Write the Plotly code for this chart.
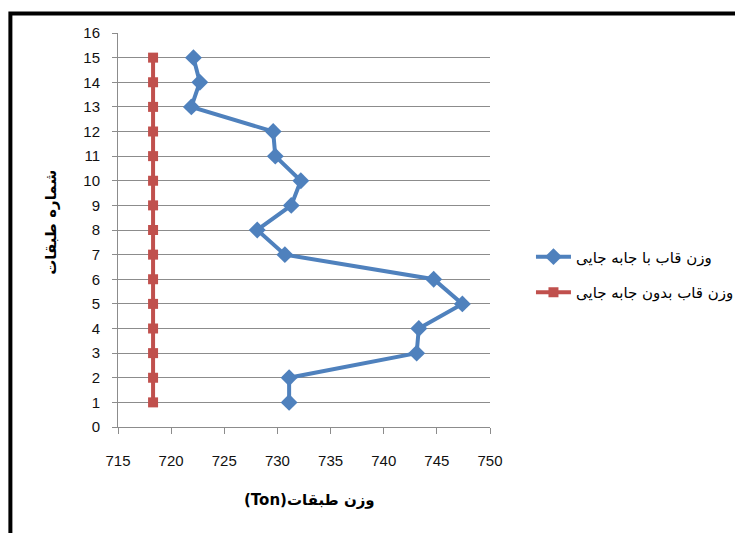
import plotly.graph_objects as go

floors = [1, 2, 3, 4, 5, 6, 7, 8, 9, 10, 11, 12, 13, 14, 15]
weight_with = [731.1, 731.1, 743.1, 743.3, 747.4, 744.7, 730.7, 728.1, 731.3, 732.2, 729.8, 729.6, 721.9, 722.7, 722.1]
weight_without = [718.3] * 15
x_ticks = [715, 720, 725, 730, 735, 740, 745, 750]
y_ticks = list(range(0, 17))

name_with = "وزن قاب با جابه جایی"
name_without = "وزن قاب بدون جابه جایی"
x_title = "(Ton)وزن طبقات"
y_title = "شماره طبقات"

OFF = 8  # page body margin
W, H = 743 - OFF, 533 - OFF
L, R, T, B = 117.7 - OFF, 490 - OFF, 32.5 - OFF, 426.7 - OFF
pw, ph = R - L, B - T

def px(x):
    return (x - OFF - L) / pw

def py(y):
    return (B - (y - OFF)) / ph

fig = go.Figure()
fig.add_trace(go.Scatter(
    x=weight_with, y=floors, mode="lines+markers", name=name_with,
    legendgroup="a",
    line=dict(color="#4F81BD", width=4),
    marker=dict(symbol="diamond", size=13, color="#4F81BD"),
))
fig.add_trace(go.Scatter(
    x=weight_without, y=floors, mode="lines+markers", name=name_without,
    legendgroup="b",
    line=dict(color="#C0504D", width=4),
    marker=dict(symbol="square", size=10, color="#C0504D"),
))

axis_font = dict(family="Liberation Sans, Arial", size=15, color="#111111")
fig.update_layout(
    width=W, height=H,
    margin=dict(l=L, r=W - R, t=T, b=H - B, pad=0, autoexpand=False),
    paper_bgcolor="white", plot_bgcolor="white",
    showlegend=True,
    legend=dict(
        x=px(531), y=py(240), xanchor="left", yanchor="top",
        font=dict(family="DejaVu Sans", size=15, color="#000"),
        traceorder="grouped", tracegroupgap=13,
        itemwidth=35, bgcolor="rgba(0,0,0,0)",
    ),
    xaxis=dict(
        range=[715, 750], tickvals=x_ticks, ticktext=[str(v) for v in x_ticks],
        showgrid=False, zeroline=False, showline=True, linecolor="#8c8c8c", linewidth=1,
        ticks="outside", ticklen=6, tickcolor="#8c8c8c",
        tickfont=axis_font, ticklabelstandoff=14,
    ),
    yaxis=dict(
        range=[0, 16], tickvals=y_ticks, ticktext=[str(v) for v in y_ticks],
        showgrid=True, gridcolor="#8c8c8c", gridwidth=1,
        zeroline=False, showline=True, linecolor="#8c8c8c", linewidth=1,
        ticks="outside", ticklen=5, tickcolor="#8c8c8c",
        tickfont=axis_font, ticklabelstandoff=9,
    ),
    annotations=[
        dict(text="<b>" + x_title + "</b>", x=px(309), y=py(500), xref="paper", yref="paper",
             showarrow=False, xanchor="center", yanchor="middle",
             font=dict(family="DejaVu Sans", size=15, color="#000")),
        dict(text="<b>" + y_title + "</b>", x=px(51), y=py(222), xref="paper", yref="paper",
             showarrow=False, xanchor="center", yanchor="middle", textangle=-90,
             font=dict(family="DejaVu Sans", size=15, color="#000")),
    ],
    shapes=[
        dict(type="rect", xref="paper", yref="paper",
             x0=px(10), x1=px(800), y0=py(13), y1=py(600),
             line=dict(color="black", width=4), fillcolor="rgba(0,0,0,0)", layer="above"),
    ],
)

fig.write_html("out.html")
